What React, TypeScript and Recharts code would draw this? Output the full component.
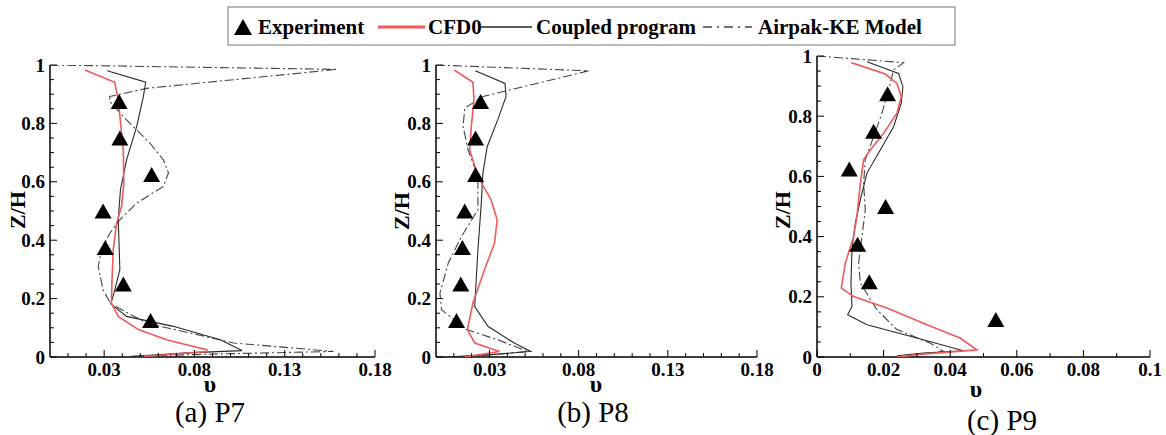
import React from 'react';
import { ScatterChart, Scatter, XAxis, YAxis } from 'recharts';

const FONT = "'Liberation Serif', 'Times New Roman', Tinos, serif";

// ---- data ----
const EXP_Z = [0.125, 0.25, 0.375, 0.5, 0.625, 0.75, 0.875];

const P7_EXP_V = [0.0557, 0.0406, 0.0306, 0.0294, 0.0563, 0.0387, 0.0383];
const P7_CFD0 = [[0.0193,0.983],[0.0359,0.941],[0.0378,0.88],[0.0406,0.709],[0.0409,0.595],[0.0396,0.515],[0.0369,0.458],[0.035,0.367],[0.0343,0.253],[0.034,0.185],[0.0378,0.139],[0.0489,0.094],[0.0646,0.059],[0.0794,0.036],[0.0869,0.025],[0.0869,0.019],[0.061,0.006],[0.052,0.002]];
const P7_COUPLED = [[0.0317,0.98],[0.053,0.941],[0.0517,0.892],[0.048,0.789],[0.0424,0.675],[0.039,0.572],[0.0378,0.47],[0.0387,0.299],[0.0359,0.23],[0.0337,0.182],[0.0424,0.139],[0.0683,0.105],[0.0943,0.059],[0.1063,0.022],[0.0757,0.014],[0.055,0.006],[0.045,0.002]];
const P7_AIRPAK = [[0,1],[0.159,0.985],[0.0535,0.92],[0.0331,0.892],[0.0331,0.875],[0.0424,0.812],[0.0554,0.732],[0.0628,0.675],[0.0656,0.63],[0.0628,0.584],[0.048,0.527],[0.0387,0.47],[0.0331,0.424],[0.0285,0.367],[0.0267,0.31],[0.0294,0.23],[0.0337,0.182],[0.0535,0.116],[0.1017,0.048],[0.157,0.019],[0.09,0.01],[0.05,0.003]];

const P8_EXP_V = [0.0115, 0.0139, 0.0148, 0.0161, 0.0222, 0.0222, 0.025];
const P8_CFD0 = [[0.0102,0.983],[0.0207,0.941],[0.0213,0.88],[0.0198,0.789],[0.0189,0.709],[0.0235,0.618],[0.0309,0.538],[0.0343,0.47],[0.0328,0.39],[0.0272,0.299],[0.0207,0.185],[0.0176,0.094],[0.0217,0.048],[0.0356,0.019],[0.0161,0.0]];
const P8_COUPLED = [[0.022,0.98],[0.0387,0.937],[0.0393,0.892],[0.0346,0.812],[0.0287,0.72],[0.0263,0.63],[0.0254,0.527],[0.0235,0.367],[0.0217,0.173],[0.0291,0.105],[0.0439,0.048],[0.0531,0.019],[0.031,0.008],[0.008,0.001]];
const P8_AIRPAK = [[0,1],[0.0856,0.98],[0.0263,0.892],[0.0161,0.852],[0.0152,0.789],[0.018,0.709],[0.0235,0.618],[0.0235,0.504],[0.0143,0.413],[0.0069,0.322],[0.0022,0.219],[0.0031,0.162],[0.017,0.094],[0.0346,0.059],[0.0513,0.019],[0.026,0.005],[0.009,0.0]];

const P9_EXP_V = [0.0537, 0.0157, 0.0122, 0.0206, 0.0097, 0.017, 0.0212];
const P9_CFD0 = [[0.0103,0.978],[0.0205,0.94],[0.024,0.909],[0.0253,0.865],[0.024,0.81],[0.02,0.743],[0.016,0.688],[0.014,0.655],[0.013,0.577],[0.012,0.467],[0.011,0.4],[0.0085,0.312],[0.0073,0.229],[0.011,0.201],[0.021,0.163],[0.033,0.107],[0.043,0.063],[0.048,0.024],[0.03,0.008],[0.024,0.0]];
const P9_COUPLED = [[0.015,0.981],[0.0245,0.942],[0.0258,0.898],[0.0253,0.843],[0.023,0.765],[0.019,0.688],[0.015,0.611],[0.013,0.522],[0.0115,0.445],[0.0105,0.356],[0.0102,0.246],[0.0105,0.168],[0.0092,0.14],[0.015,0.107],[0.028,0.069],[0.044,0.021],[0.032,0.013],[0.024,0.004]];
const P9_AIRPAK = [[0,1],[0.026,0.978],[0.023,0.954],[0.0215,0.887],[0.0195,0.81],[0.017,0.732],[0.0145,0.655],[0.014,0.577],[0.0145,0.489],[0.0135,0.4],[0.0125,0.312],[0.013,0.246],[0.018,0.157],[0.024,0.091],[0.034,0.046],[0.038,0.019],[0.03,0.008],[0.026,0.0]];

// ---- ticks ----
const Y_TICKS = [0, 0.05, 0.1, 0.15, 0.2, 0.25, 0.3, 0.35, 0.4, 0.45, 0.5, 0.55, 0.6, 0.65, 0.7, 0.75, 0.8, 0.85, 0.9, 0.95, 1];
const Y_LABELS = [0, 0.2, 0.4, 0.6, 0.8, 1];
const X_TICKS_AB = [0.01, 0.02, 0.03, 0.04, 0.05, 0.06, 0.07, 0.08, 0.09, 0.1, 0.11, 0.12, 0.13, 0.14, 0.15, 0.16, 0.17, 0.18];
const X_LABELS_AB = [0.03, 0.08, 0.13, 0.18];
const X_TICKS_C = [0, 0.01, 0.02, 0.03, 0.04, 0.05, 0.06, 0.07, 0.08, 0.09, 0.1];
const X_LABELS_C = [0, 0.02, 0.04, 0.06, 0.08, 0.1];

const CAPTIONS = ['(a) P7', '(b) P8', '(c) P9'];
const LEGEND_NAMES = ['Experiment', 'CFD0', 'Coupled program', 'Airpak-KE Model'];

const RED = '#ef5a5a';
const DARK = '#2a2a2a';
const DASH = '#444';

const pts = (a: number[][]) => a.map(([v, z]) => ({ v, z }));
const expPts = (vs: number[]) => vs.map((v, i) => ({ v, z: EXP_Z[i] }));
const isIn = (v: number, list: number[]) => list.some((l) => Math.abs(l - v) < 1e-9);

const Triangle = (props: any) => {
  const { cx, cy } = props;
  if (cx == null || cy == null) return <g />;
  const w = 17, h = 15;
  return <polygon points={`${cx - w / 2},${cy + h / 2} ${cx + w / 2},${cy + h / 2} ${cx},${cy - h / 2}`} fill="#000" />;
};
const NoShape = () => <g />;

const tStyle = { fontFamily: FONT } as any;

const makeYTick = (labels: number[]) => (props: any) => {
  const { x, y, payload } = props;
  const v = payload.value;
  const major = isIn(v, labels);
  return (
    <g>
      <line x1={x + 5} x2={x + 5 + (major ? 7 : 4)} y1={y} y2={y} stroke="#000" strokeWidth={1} />
      {major && (
        <text x={x} y={y} dy="0.35em" textAnchor="end" style={tStyle} fontWeight="bold" fontSize={19} fill="#000">
          {String(v)}
        </text>
      )}
    </g>
  );
};
const makeXTick = (labels: number[]) => (props: any) => {
  const { x, y, payload } = props;
  const v = payload.value;
  const major = isIn(v, labels);
  return (
    <g>
      <line x1={x} x2={x} y1={y - 6} y2={y - 6 - (major ? 7 : 4)} stroke="#000" strokeWidth={1} />
      {major && (
        <text x={x} y={y} dy="0.71em" textAnchor="middle" style={tStyle} fontWeight="bold" fontSize={19} fill="#000">
          {String(v)}
        </text>
      )}
    </g>
  );
};

type PanelProps = {
  left: number; width: number; top: number; right: number;
  xMax: number; xTicks: number[]; xLabels: number[];
  exp: number[]; cfd: number[][]; coupled: number[][]; airpak: number[][];
};

const Panel = (p: PanelProps) => (
  <div style={{ position: 'absolute', left: p.left, top: 0 }}>
    <ScatterChart width={p.width} height={435} margin={{ top: p.top, right: p.right, bottom: 0, left: 0 }}>
      <XAxis type="number" dataKey="v" domain={[0, p.xMax]} ticks={p.xTicks} interval={0} height={78}
        tickSize={0} tickMargin={6} axisLine={{ stroke: '#000', strokeWidth: 1.5 }} tick={makeXTick(p.xLabels)} allowDataOverflow />
      <YAxis type="number" dataKey="z" domain={[0, 1]} ticks={Y_TICKS} interval={0} width={50}
        tickSize={0} tickMargin={5} axisLine={{ stroke: '#000', strokeWidth: 1.5 }} tick={makeYTick(Y_LABELS)} allowDataOverflow />
      <Scatter data={pts(p.airpak)} shape={NoShape} line={{ stroke: DASH, strokeWidth: 1.1, strokeDasharray: '9 3 2 3' }} isAnimationActive={false} />
      <Scatter data={pts(p.coupled)} shape={NoShape} line={{ stroke: DARK, strokeWidth: 1.1 }} isAnimationActive={false} />
      <Scatter data={pts(p.cfd)} shape={NoShape} line={{ stroke: RED, strokeWidth: 1.6 }} isAnimationActive={false} />
      <Scatter data={expPts(p.exp)} shape={Triangle} isAnimationActive={false} />
    </ScatterChart>
  </div>
);

const Overlay = () => {
  const t = { style: tStyle, fill: '#000' } as any;
  return (
    <svg width={1166} height={435} style={{ position: 'absolute', left: 0, top: 0, pointerEvents: 'none' }}>
      {/* legend */}
      <rect x={228} y={7} width={727} height={38} fill="none" stroke="#8a8a8a" strokeWidth={1.2} />
      <polygon points="234,35 252,35 243,19" fill="#000" />
      <text x={258} y={34} fontSize={21} fontWeight="bold" {...t}>{LEGEND_NAMES[0]}</text>
      <line x1={378} x2={425} y1={27} y2={27} stroke={RED} strokeWidth={3} />
      <text x={428} y={34} fontSize={21} fontWeight="bold" {...t}>{LEGEND_NAMES[1]}</text>
      <line x1={480} x2={532} y1={27} y2={27} stroke={DARK} strokeWidth={1.3} />
      <text x={536} y={34} fontSize={21} fontWeight="bold" {...t}>{LEGEND_NAMES[2]}</text>
      <line x1={703} x2={752} y1={27} y2={27} stroke={DASH} strokeWidth={1.3} strokeDasharray="9 5 2 5" />
      <text x={758} y={34} fontSize={21} fontWeight="bold" {...t}>{LEGEND_NAMES[3]}</text>

      {/* y labels */}
      <text transform="translate(25,210) rotate(-90)" textAnchor="middle" fontSize={22} fontWeight="bold" {...t}>Z/H</text>
      <text transform="translate(409,211) rotate(-90)" textAnchor="middle" fontSize={22} fontWeight="bold" {...t}>Z/H</text>
      <text transform="translate(790,210) rotate(-90)" textAnchor="middle" fontSize={22} fontWeight="bold" {...t}>Z/H</text>

      {/* x labels */}
      <text x={210} y={392} textAnchor="middle" fontSize={24} fontWeight="bold" {...t}>υ</text>
      <text x={596} y={392} textAnchor="middle" fontSize={24} fontWeight="bold" {...t}>υ</text>
      <text x={976} y={397} textAnchor="middle" fontSize={24} fontWeight="bold" {...t}>υ</text>

      {/* captions */}
      <text x={210} y={422} textAnchor="middle" fontSize={29} {...t}>{CAPTIONS[0]}</text>
      <text x={593} y={422} textAnchor="middle" fontSize={29} {...t}>{CAPTIONS[1]}</text>
      <text x={1002} y={430} textAnchor="middle" fontSize={29} {...t}>{CAPTIONS[2]}</text>
    </svg>
  );
};

export default function App() {
  return (
    <div style={{ position: 'absolute', left: 0, top: 0, width: 1166, height: 435, background: '#fff', overflow: 'hidden' }}>
      <Panel left={0} width={400} top={65} right={25} xMax={0.18} xTicks={X_TICKS_AB} xLabels={X_LABELS_AB}
        exp={P7_EXP_V} cfd={P7_CFD0} coupled={P7_COUPLED} airpak={P7_AIRPAK} />
      <Panel left={386} width={400} top={65} right={29} xMax={0.18} xTicks={X_TICKS_AB} xLabels={X_LABELS_AB}
        exp={P8_EXP_V} cfd={P8_CFD0} coupled={P8_COUPLED} airpak={P8_AIRPAK} />
      <Panel left={767} width={399} top={56} right={16} xMax={0.1} xTicks={X_TICKS_C} xLabels={X_LABELS_C}
        exp={P9_EXP_V} cfd={P9_CFD0} coupled={P9_COUPLED} airpak={P9_AIRPAK} />
      <Overlay />
    </div>
  );
}
